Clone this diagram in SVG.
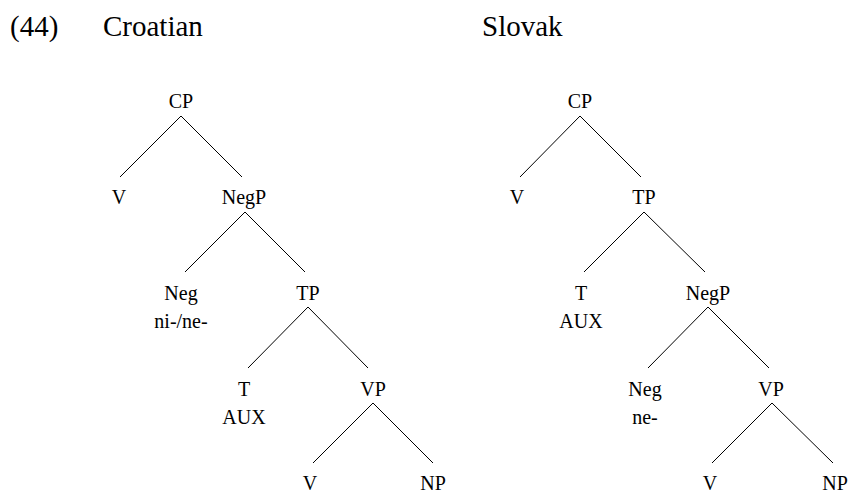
<svg xmlns="http://www.w3.org/2000/svg" width="852" height="493" viewBox="0 0 852 493">
  <style>
    .title { font-size: 29px; }
    .lbl { font-size: 20px; text-anchor: middle; }
    .edge { stroke: #000; stroke-width: 1; fill: none; }
  </style>
  <rect width="852" height="493" fill="#fff"/>

  <g font-family="Liberation Serif, DejaVu Serif, serif" fill="#000">
    <!-- headings -->
    <g id="headings">
      <text class="title" x="10" y="36">(44)</text>
      <text class="title" x="103" y="36">Croatian</text>
      <text class="title" x="482" y="36">Slovak</text>
    </g>

    <!-- branches: Croatian tree, then Slovak tree -->
    <g id="connectors">
      <path class="edge" d="M181 116 L120 177 M181 116 L242 177"/>
      <path class="edge" d="M245 212 L185 272 M245 212 L305 272"/>
      <path class="edge" d="M308 307 L248 368 M308 307 L368 368"/>
      <path class="edge" d="M373 403 L313 463 M373 403 L433 463"/>

      <path class="edge" d="M580 116 L520 177 M580 116 L641 177"/>
      <path class="edge" d="M644 212 L584 272 M644 212 L705 272"/>
      <path class="edge" d="M708 307 L648 368 M708 307 L769 368"/>
      <path class="edge" d="M772 403 L712 463 M772 403 L833 463"/>
    </g>

    <!-- Croatian -->
    <g id="hr-cp"><text class="lbl" x="181" y="108">CP</text></g>
    <g id="hr-v1"><text class="lbl" x="119" y="204">V</text></g>
    <g id="hr-negp"><text class="lbl" x="244" y="204">NegP</text></g>
    <g id="hr-neg"><text class="lbl" x="181" y="300">Neg</text><text class="lbl" x="181" y="328">ni-/ne-</text></g>
    <g id="hr-tp"><text class="lbl" x="308" y="300">TP</text></g>
    <g id="hr-t"><text class="lbl" x="244" y="396">T</text><text class="lbl" x="244" y="424">AUX</text></g>
    <g id="hr-vp"><text class="lbl" x="373" y="396">VP</text></g>
    <g id="hr-v2"><text class="lbl" x="310" y="490">V</text></g>
    <g id="hr-np"><text class="lbl" x="433" y="490">NP</text></g>

    <!-- Slovak -->
    <g id="sk-cp"><text class="lbl" x="580" y="108">CP</text></g>
    <g id="sk-v1"><text class="lbl" x="517" y="204">V</text></g>
    <g id="sk-tp"><text class="lbl" x="644" y="204">TP</text></g>
    <g id="sk-t"><text class="lbl" x="581" y="300">T</text><text class="lbl" x="581" y="328">AUX</text></g>
    <g id="sk-negp"><text class="lbl" x="708" y="300">NegP</text></g>
    <g id="sk-neg"><text class="lbl" x="645" y="396">Neg</text><text class="lbl" x="645" y="424">ne-</text></g>
    <g id="sk-vp"><text class="lbl" x="771" y="396">VP</text></g>
    <g id="sk-v2"><text class="lbl" x="710" y="490">V</text></g>
    <g id="sk-np"><text class="lbl" x="835" y="490">NP</text></g>
  </g>
</svg>
